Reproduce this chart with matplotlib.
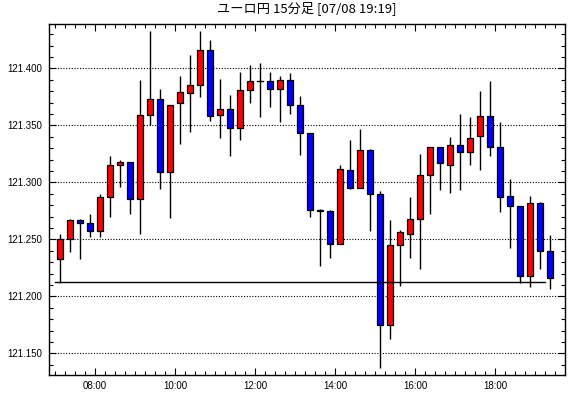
import matplotlib
matplotlib.use("Agg")
import matplotlib.pyplot as plt
from matplotlib.ticker import MultipleLocator, FixedLocator
from matplotlib.patches import Rectangle

plt.rcParams['font.family'] = ['Noto Sans CJK JP', 'DejaVu Sans']

title = "ユーロ円 15分足 [07/08 19:19]"

# bar start times (HH:MM), 15-minute bars
times = ["07:00", "07:15", "07:30", "07:45", "08:00", "08:15", "08:30", "08:45",
         "09:00", "09:15", "09:30", "09:45", "10:00", "10:15", "10:30", "10:45",
         "11:00", "11:15", "11:30", "11:45", "12:00", "12:15", "12:30", "12:45",
         "13:00", "13:15", "13:30", "13:45", "14:00", "14:15", "14:30", "14:45",
         "15:00", "15:15", "15:30", "15:45", "16:00", "16:15", "16:30", "16:45",
         "17:00", "17:15", "17:30", "17:45", "18:00", "18:15", "18:30", "18:45",
         "19:00", "19:15"]
opens = [121.233, 121.250, 121.267, 121.264, 121.257, 121.287, 121.315, 121.318,
         121.285, 121.359, 121.373, 121.309, 121.370, 121.378, 121.385, 121.416,
         121.359, 121.364, 121.348, 121.381, 121.389, 121.389, 121.382, 121.390,
         121.368, 121.343, 121.276, 121.275, 121.246, 121.311, 121.295, 121.328,
         121.290, 121.175, 121.245, 121.255, 121.268, 121.306, 121.331, 121.315,
         121.333, 121.327, 121.341, 121.358, 121.331, 121.288, 121.279, 121.2175,
         121.282, 121.240]
highs = [121.255, 121.268, 121.268, 121.272, 121.290, 121.323, 121.320, 121.318,
         121.390, 121.433, 121.382, 121.368, 121.393, 121.412, 121.433, 121.425,
         121.391, 121.377, 121.397, 121.403, 121.405, 121.397, 121.393, 121.396,
         121.376, 121.343, 121.277, 121.276, 121.315, 121.337, 121.347, 121.329,
         121.292, 121.267, 121.258, 121.287, 121.325, 121.331, 121.331, 121.340,
         121.360, 121.357, 121.380, 121.389, 121.353, 121.303, 121.279, 121.288,
         121.283, 121.254]
lows = [121.212, 121.239, 121.233, 121.252, 121.252, 121.270, 121.296, 121.272,
        121.255, 121.350, 121.294, 121.269, 121.334, 121.344, 121.375, 121.354,
        121.339, 121.323, 121.337, 121.370, 121.357, 121.366, 121.353, 121.360,
        121.324, 121.270, 121.227, 121.234, 121.246, 121.294, 121.295, 121.257,
        121.137, 121.163, 121.209, 121.234, 121.224, 121.272, 121.293, 121.291,
        121.293, 121.315, 121.311, 121.323, 121.274, 121.242, 121.212, 121.2085,
        121.224, 121.206]
closes = [121.250, 121.267, 121.264, 121.2576, 121.287, 121.315, 121.318, 121.285,
          121.359, 121.373, 121.309, 121.368, 121.379, 121.385, 121.416, 121.358,
          121.364, 121.348, 121.381, 121.389, 121.389, 121.382, 121.390, 121.368,
          121.343, 121.276, 121.275, 121.246, 121.312, 121.295, 121.328, 121.290,
          121.175, 121.245, 121.256, 121.268, 121.306, 121.331, 121.317, 121.333,
          121.327, 121.339, 121.358, 121.331, 121.287, 121.279, 121.2175, 121.282,
          121.240, 121.216]

# horizontal reference line
ref_level = 121.2123
ref_start = "07:00"
ref_end = "19:15"

xtick_labels = ["08:00", "10:00", "12:00", "14:00", "16:00", "18:00"]
ytick_values = [121.150, 121.200, 121.250, 121.300, 121.350, 121.400]


def to_h(s):
    h, m = s.split(":")
    return int(h) + int(m) / 60.0


fig = plt.figure(figsize=(5.7, 3.98), dpi=100)
ax = fig.add_axes([49.3 / 570, 1 - 375 / 398, (565 - 49.3) / 570, (375 - 24.3) / 398])

bar_w = 0.16
for t, o, h, l, c in zip(times, opens, highs, lows, closes):
    x = to_h(t) + 0.125
    ax.plot([x, x], [l, h], color='black', lw=1.0, zorder=2, solid_capstyle='butt')
    if abs(c - o) < 0.0005:
        ax.plot([x - bar_w / 2, x + bar_w / 2], [o, o], color='black', lw=1.0, zorder=3)
        continue
    col = '#FF0000' if c > o else '#0000FF'
    ax.add_patch(Rectangle((x - bar_w / 2, min(o, c)), bar_w, abs(c - o),
                           facecolor=col, edgecolor='black', lw=0.9, zorder=3))

ax.plot([to_h(ref_start), to_h(ref_end)], [ref_level, ref_level], color='black', lw=1.0, zorder=4)

ax.set_xlim(6.8575, 19.75)
ax.set_ylim(121.131, 121.4386)

ax.xaxis.set_major_locator(FixedLocator([to_h(s) for s in xtick_labels]))
ax.set_xticklabels(xtick_labels, family='Liberation Sans')
ax.xaxis.set_minor_locator(MultipleLocator(0.25))
ax.yaxis.set_major_locator(FixedLocator(ytick_values))
ax.set_yticklabels([f"{v:.3f}" for v in ytick_values], family='Liberation Sans')
ax.yaxis.set_minor_locator(MultipleLocator(0.01))

ax.tick_params(which='both', direction='in', top=True, right=True, labelsize=7, width=0.8)
ax.tick_params(axis='y', pad=5)
ax.tick_params(axis='x', pad=4)
ax.tick_params(which='major', length=5)
ax.tick_params(which='minor', length=3)

for v in ytick_values:
    ax.axhline(v, color='black', lw=0.8, linestyle=(0, (1, 1.5)), zorder=1)

for sp in ax.spines.values():
    sp.set_linewidth(1.0)

fig.text((49.3 + 565) / 2 / 570, 1 - 8 / 398, title, fontsize=9.5, ha='center', va='center')

fig.savefig("out.png", dpi=100)
